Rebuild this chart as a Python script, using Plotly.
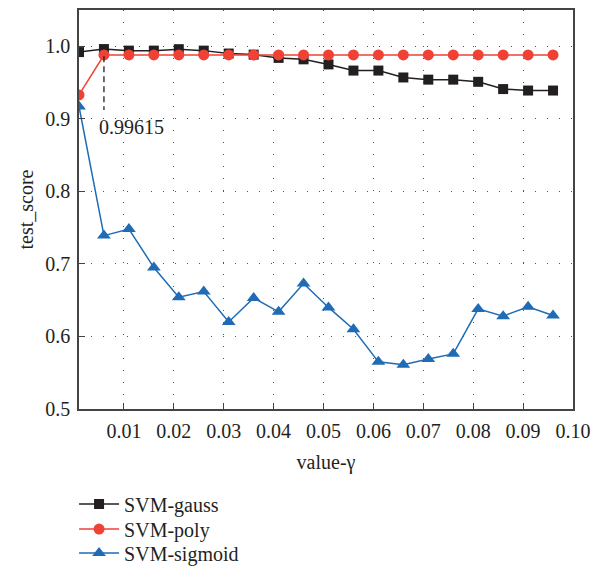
import plotly.graph_objects as go

gamma = [0.001, 0.006, 0.011, 0.016, 0.021, 0.026, 0.031, 0.036, 0.041, 0.046,
         0.051, 0.056, 0.061, 0.066, 0.071, 0.076, 0.081, 0.086, 0.091, 0.096]
svm_gauss = [0.992, 0.99615, 0.994, 0.994, 0.996, 0.994, 0.990, 0.9885, 0.984, 0.982,
             0.975, 0.9665, 0.9665, 0.957, 0.954, 0.954, 0.951, 0.941, 0.939, 0.939]
svm_poly = [0.933] + [0.988] * 19
svm_sigmoid = [0.917, 0.739, 0.748, 0.695, 0.654, 0.662, 0.620, 0.653, 0.634, 0.673,
               0.640, 0.610, 0.565, 0.561, 0.569, 0.576, 0.638, 0.628, 0.641, 0.629]
x_ticks = [0.01, 0.02, 0.03, 0.04, 0.05, 0.06, 0.07, 0.08, 0.09, 0.10]
x_tick_labels = ["0.01", "0.02", "0.03", "0.04", "0.05", "0.06", "0.07", "0.08", "0.09", "0.10"]
y_ticks = [0.5, 0.6, 0.7, 0.8, 0.9, 1.0]
y_tick_labels = ["0.5", "0.6", "0.7", "0.8", "0.9", "1.0"]

BLACK = "#231f20"
RED = "#ef4136"
BLUE = "#1f6bb5"
FONT = "Liberation Serif"
FS = 20

fig = go.Figure()
fig.add_trace(go.Scatter(x=gamma, y=svm_sigmoid, name="SVM-sigmoid", mode="lines+markers",
                         line=dict(color=BLUE, width=1.5),
                         marker=dict(symbol="triangle-up", size=12, color=BLUE),
                         legend="legend3", showlegend=True))
fig.add_trace(go.Scatter(x=gamma, y=svm_gauss, name="SVM-gauss", mode="lines+markers",
                         line=dict(color=BLACK, width=1.5),
                         marker=dict(symbol="square", size=10, color=BLACK),
                         legend="legend", showlegend=True))
fig.add_trace(go.Scatter(x=gamma, y=svm_poly, name="SVM-poly", mode="lines+markers",
                         line=dict(color=RED, width=1.5),
                         marker=dict(symbol="circle", size=11, color=RED),
                         legend="legend2", showlegend=True))

# annotation at max of gauss
imax = max(range(len(svm_gauss)), key=lambda i: svm_gauss[i])
xm, ym = gamma[imax], svm_gauss[imax]
fig.add_shape(type="line", x0=xm, x1=xm, y0=ym - 0.01, y1=ym - 0.084,
              line=dict(color=BLACK, width=1.3, dash="6px,4px"))
fig.add_annotation(x=xm, y=ym - 0.107, text=f"{ym:.5f}", showarrow=False,
                   xanchor="left", yanchor="middle", xshift=-7,
                   font=dict(family=FONT, size=FS, color=BLACK))

axis_common = dict(showline=True, linecolor="#444", linewidth=1.5, mirror=True,
                   showgrid=True, gridcolor="#555", gridwidth=1, griddash="1px,11px",
                   zeroline=False, ticks="inside", ticklen=6, tickcolor="#444",
                   tickfont=dict(family=FONT, size=FS, color=BLACK))

fig.update_xaxes(range=[0.001, 0.1], tickvals=x_ticks, ticktext=x_tick_labels,
                 ticklabelstandoff=3,
                 title=dict(text="value-γ", font=dict(family=FONT, size=FS, color=BLACK), standoff=14),
                 **axis_common)
fig.update_yaxes(range=[0.5, 1.05], tickvals=y_ticks, ticktext=y_tick_labels,
                 ticklabelstandoff=3,
                 title=dict(text="test_score", font=dict(family=FONT, size=FS, color=BLACK), standoff=6),
                 **axis_common)

leg = dict(x=-0.01, xanchor="left", yanchor="middle",
           font=dict(family=FONT, size=FS, color=BLACK),
           itemwidth=40, bgcolor="rgba(0,0,0,0)")
fig.update_layout(
    width=602, height=567,
    showlegend=True,
    margin=dict(l=79, r=29, t=10, b=158, autoexpand=False),
    plot_bgcolor="white", paper_bgcolor="white",
    font=dict(family=FONT, color=BLACK),
    legend=dict(y=-0.238, **leg),
    legend2=dict(y=-0.301, **leg),
    legend3=dict(y=-0.361, **leg),
)

fig.write_html("out.html", config={"displayModeBar": False},
               post_script="document.body.style.margin='0';")
